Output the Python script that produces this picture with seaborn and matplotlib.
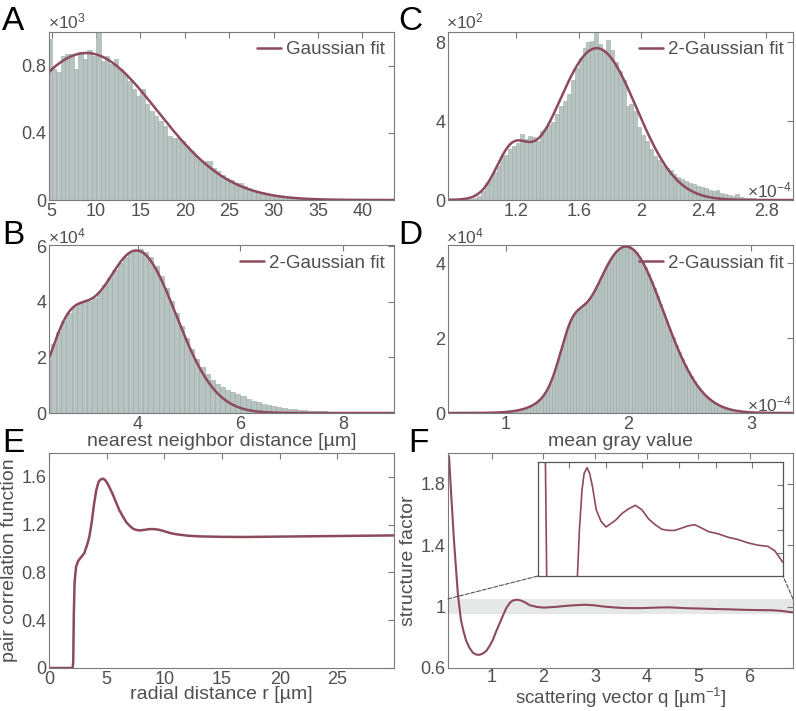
import numpy as np
import pandas as pd
import matplotlib
matplotlib.use("Agg")
import matplotlib.pyplot as plt
from matplotlib.patches import ConnectionPatch
import seaborn as sns

# ---------------------------------------------
# 1. data
# ---------------------------------------------

# A : histogram (counts x10^3), bin width 0.5, Gaussian fit
a_bin_start, a_bin_width = 4.5, 0.5
a_counts = [0.96, 0.78, 0.76, 0.86, 0.87, 0.87, 0.78, 0.88, 0.84, 0.89,
            0.86, 1.00, 0.83, 0.86, 0.81, 0.84, 0.78, 0.75, 0.71, 0.66,
            0.62, 0.66, 0.57, 0.53, 0.50, 0.47, 0.44, 0.38, 0.37, 0.37,
            0.35, 0.32, 0.29, 0.26, 0.24, 0.23, 0.23, 0.19, 0.17, 0.15,
            0.13, 0.12, 0.10, 0.10, 0.085, 0.07, 0.06, 0.055, 0.045, 0.04,
            0.03, 0.025, 0.02, 0.017, 0.014, 0.012, 0.01, 0.008, 0.007, 0.005,
            0.005, 0.004, 0.003, 0.003, 0.002, 0.002, 0.002, 0.001, 0.001, 0.001,
            0.001, 0.001, 0.0005, 0.0005, 0.0005, 0.0005, 0.0005, 0.0005, 0.0005, 0.0005]
a_fit_amp = [0.875]
a_fit_mu = [8.9]
a_fit_sigma = [8.0]

# B : nearest neighbour distance (counts x10^4), bin width 0.1, 2-Gaussian fit
b_bin_start, b_bin_width = 2.2, 0.1
b_counts = [1.95, 2.5, 2.9, 3.3, 3.6, 3.8, 3.95, 4.0, 4.05, 4.15,
            4.35, 4.6, 4.85, 5.15, 5.4, 5.6, 5.75, 5.85, 5.9, 5.8,
            5.6, 5.3, 4.95, 4.5, 4.05, 3.6, 3.15, 2.7, 2.3, 1.95,
            1.65, 1.4, 1.2, 1.05, 0.92, 0.82, 0.74, 0.68, 0.6, 0.52,
            0.45, 0.39, 0.33, 0.28, 0.24, 0.2, 0.17, 0.15, 0.13, 0.11,
            0.095, 0.085, 0.075, 0.065, 0.055, 0.05, 0.045, 0.04, 0.035, 0.03,
            0.027, 0.024, 0.021, 0.018, 0.016, 0.014, 0.012, 0.01]
b_fit_amp = [2.3, 5.85]
b_fit_mu = [2.62, 3.97]
b_fit_sigma = [0.38, 0.77]

# C : (counts x10^2), x in units of 1e-4, bin width 0.025
c_bin_start, c_bin_width = 0.75, 0.025
c_counts = [0.0, 0.0, 0.01, 0.01, 0.02, 0.03, 0.06, 0.12, 0.2, 0.45,
            0.85, 1.1, 1.4, 1.7, 2.25, 2.3, 2.6, 2.75, 2.9, 3.35,
            3.1, 3.25, 3.2, 3.0, 3.5, 3.6, 3.8, 3.95, 4.35, 4.75,
            5.0, 5.4, 6.1, 6.7, 7.2, 7.7, 8.0, 8.05, 8.5, 7.9,
            7.55, 8.1, 7.6, 7.0, 6.55, 6.1, 4.75, 4.85, 4.5, 3.7,
            3.3, 3.0, 2.6, 2.25, 2.05, 1.75, 1.6, 1.5, 1.3, 1.15,
            1.05, 0.95, 0.85, 0.8, 0.72, 0.65, 0.6, 0.52, 0.48, 0.5,
            0.35, 0.32, 0.25, 0.22, 0.3, 0.15, 0.12, 0.1, 0.08, 0.06,
            0.07, 0.05, 0.04, 0.03, 0.03, 0.02, 0.02, 0.01, 0.01]
c_fit_amp = [2.1, 7.7]
c_fit_mu = [1.17, 1.715]
c_fit_sigma = [0.1, 0.255]

# D : mean gray value (counts x10^4), x in units of 1e-4, bin width 0.025
d_bin_start, d_bin_width = 1.0, 0.025
d_counts = [0.03, 0.04, 0.05, 0.06, 0.08, 0.10, 0.13, 0.16, 0.19, 0.24,
            0.30, 0.38, 0.48, 0.61, 0.78, 0.99, 1.24, 1.51, 1.80, 2.08,
            2.32, 2.51, 2.65, 2.74, 2.81, 2.88, 2.95, 3.05, 3.18, 3.34,
            3.50, 3.68, 3.84, 4.00, 4.13, 4.25, 4.34, 4.41, 4.44, 4.45,
            4.42, 4.37, 4.29, 4.18, 4.05, 3.90, 3.72, 3.54, 3.33, 3.12,
            2.90, 2.68, 2.46, 2.25, 2.04, 1.83, 1.64, 1.45, 1.28, 1.12,
            0.98, 0.85, 0.73, 0.62, 0.52, 0.44, 0.37, 0.31, 0.25, 0.21,
            0.17, 0.14, 0.11, 0.09, 0.07, 0.05, 0.04, 0.03, 0.03, 0.02]
d_fit_amp = [0.95, 4.45]
d_fit_mu = [1.53, 1.98]
d_fit_sigma = [0.095, 0.306]

# E : pair correlation function
e_r = [0, 2.05, 2.1, 2.15, 2.22, 2.35, 2.55, 2.8, 3.05, 3.3,
       3.5, 3.7, 3.9, 4.1, 4.3, 4.5, 4.7, 4.9, 5.1, 5.3,
       5.5, 5.8, 6.1, 6.4, 6.7, 7.0, 7.3, 7.6, 7.9, 8.3,
       8.7, 9.1, 9.5, 10.0, 10.5, 11.0, 12.0, 13.0, 15.0, 17.0,
       20.0, 25.0, 29.9]
e_g = [0, 0, 0.05, 0.45, 0.72, 0.85, 0.9, 0.93, 0.96, 1.03,
       1.10, 1.22, 1.37, 1.49, 1.56, 1.58, 1.585, 1.57, 1.54, 1.50,
       1.46, 1.39, 1.32, 1.27, 1.22, 1.19, 1.165, 1.155, 1.152, 1.157,
       1.163, 1.163, 1.158, 1.145, 1.13, 1.12, 1.108, 1.102, 1.098, 1.097,
       1.1, 1.105, 1.11]

# F : structure factor
f_q = [0.17, 0.21, 0.27, 0.34, 0.40, 0.45, 0.50, 0.56, 0.63, 0.70,
       0.76, 0.82, 0.89, 0.96, 1.02, 1.08, 1.15, 1.22, 1.28, 1.35,
       1.41, 1.49, 1.56, 1.64, 1.74, 1.87, 2.01, 2.27, 2.45, 2.63,
       2.81, 2.99, 3.17, 3.35, 3.53, 3.71, 3.89, 4.07, 4.25, 4.43,
       4.62, 4.80, 5.07, 5.34, 5.61, 5.89, 6.16, 6.43, 6.62, 6.79,
       6.84]
f_s = [1.98, 1.74, 1.41, 1.087, 0.913, 0.84, 0.78, 0.735, 0.70, 0.687,
       0.686, 0.693, 0.71, 0.745, 0.783, 0.835, 0.89, 0.945, 0.99, 1.025,
       1.040, 1.045, 1.040, 1.028, 1.008, 0.998, 0.993, 0.999, 1.005, 1.009,
       1.012, 1.008, 1.0, 0.995, 0.991, 0.990, 0.990, 0.992, 0.994, 0.995,
       0.992, 0.989, 0.987, 0.984, 0.982, 0.979, 0.977, 0.976, 0.972, 0.964,
       0.962]
f_band = [0.95, 1.05]

# ---------------------------------------------
# 2. style
# ---------------------------------------------
sns.set_style("white")
plt.rcParams['font.family'] = ['Liberation Sans', 'DejaVu Sans']
plt.rcParams['mathtext.fontset'] = 'custom'
plt.rcParams['mathtext.rm'] = 'Liberation Sans'
plt.rcParams['mathtext.it'] = 'Liberation Sans:italic'

BAR = '#b8c4c2'
BAR_EDGE = '#9aa8a6'
FIT = '#8c4a5c'
SPINE = '#7a7a7a'
TXT = '#505050'

W, H = 796, 711
fig = plt.figure(figsize=(W / 100, H / 100), dpi=100)


def px_axes(left, top, right, bottom):
    return fig.add_axes([left / W, 1 - bottom / H, (right - left) / W, (bottom - top) / H])


def style(ax, xlim, ylim, xticks, xlabels, yticks, ylabels):
    ax.set_xlim(*xlim)
    ax.set_ylim(*ylim)
    ax.set_xticks(xticks)
    ax.set_xticklabels(xlabels)
    ax.set_yticks(yticks)
    ax.set_yticklabels(ylabels)
    ax.tick_params(direction='in', top=True, right=True, length=4, width=0.8,
                   color=SPINE, labelcolor=TXT, labelsize=13, pad=2)
    for sp in ax.spines.values():
        sp.set_visible(True)
        sp.set_color(SPINE)
        sp.set_linewidth(0.8)
    ax.set_xlabel('')
    ax.set_ylabel('')


def hist_with_fit(ax, start, width, counts, amps, mus, sigmas, label, xlim):
    edges = [round(start + width * i, 6) for i in range(len(counts) + 1)]
    df = pd.DataFrame({'x': [e + width / 2 for e in edges[:-1]], 'n': counts})
    sns.histplot(data=df, x='x', weights='n', bins=edges, ax=ax, color=BAR,
                 edgecolor=BAR_EDGE, linewidth=0.4, alpha=1)
    xs = np.linspace(xlim[0], xlim[1], 500)
    ys = sum(a * np.exp(-(xs - m) ** 2 / (2 * s ** 2)) for a, m, s in zip(amps, mus, sigmas))
    sns.lineplot(x=xs, y=ys, ax=ax, color=FIT, linewidth=1.8, label=label)
    ax.legend(loc='upper right', frameon=False, fontsize=13.5, handlelength=1.3,
              handletextpad=0.25, borderaxespad=0.1, labelcolor=TXT)


def xlab(ax, text, pad=0, size=14):
    ax.set_xlabel(text, fontsize=size, color=TXT, labelpad=pad)


# ---------------------------------------------
# 3. panels
# ---------------------------------------------
ax_a = px_axes(49, 32, 394, 200)
xl = (4.7, 43.55)
hist_with_fit(ax_a, a_bin_start, a_bin_width, a_counts, a_fit_amp, a_fit_mu, a_fit_sigma, 'Gaussian fit', xl)
style(ax_a, xl, (0, 1.0), [5, 10, 15, 20, 25, 30, 35, 40],
      ['5', '10', '15', '20', '25', '30', '35', '40'], [0, 0.4, 0.8], ['0', '0.4', '0.8'])

ax_c = px_axes(448, 32, 793, 200)
xl = (0.765, 2.97)
hist_with_fit(ax_c, c_bin_start, c_bin_width, c_counts, c_fit_amp, c_fit_mu, c_fit_sigma, '2-Gaussian fit', xl)
style(ax_c, xl, (0, 8.52), [1.2, 1.6, 2.0, 2.4, 2.8],
      ['1.2', '1.6', '2', '2.4', '2.8'], [0, 4, 8], ['0', '4', '8'])

ax_b = px_axes(49, 245, 394, 413)
xl = (2.26, 9.0)
hist_with_fit(ax_b, b_bin_start, b_bin_width, b_counts, b_fit_amp, b_fit_mu, b_fit_sigma, '2-Gaussian fit', xl)
style(ax_b, xl, (0, 6.05), [4, 6, 8], ['4', '6', '8'], [0, 2, 4, 6], ['0', '2', '4', '6'])
xlab(ax_b, 'nearest neighbor distance [µm]')

ax_d = px_axes(448, 245, 793, 413)
xl = (0.53, 3.34)
hist_with_fit(ax_d, d_bin_start, d_bin_width, d_counts, d_fit_amp, d_fit_mu, d_fit_sigma, '2-Gaussian fit', xl)
style(ax_d, xl, (0, 4.49), [1, 2, 3], ['1', '2', '3'], [0, 2, 4], ['0', '2', '4'])
xlab(ax_d, 'mean gray value')

ax_e = px_axes(49, 453, 394, 668)
sns.lineplot(x=e_r, y=e_g, ax=ax_e, color=FIT, linewidth=1.8)
style(ax_e, (0, 29.9), (0, 1.8), [0, 5, 10, 15, 20, 25], ['0', '5', '10', '15', '20', '25'],
      [0, 0.4, 0.8, 1.2, 1.6], ['0', '0.4', '0.8', '1.2', '1.6'])
xlab(ax_e, 'radial distance r [µm]', pad=-1)
ax_e.set_ylabel('pair correlation function', fontsize=14, color=TXT, labelpad=2)

ax_f = px_axes(448, 453, 793, 668)
f_xlim = (0.15, 6.84)
ax_f.axhspan(f_band[0], f_band[1], color='#e6e8e7', lw=0, zorder=0)
sns.lineplot(x=f_q, y=f_s, ax=ax_f, color=FIT, linewidth=1.5)
style(ax_f, f_xlim, (0.6, 2.0), [1, 2, 3, 4, 5, 6], ['1', '2', '3', '4', '5', '6'],
      [0.6, 1.0, 1.4, 1.8], ['0.6', '1', '1.4', '1.8'])
ax_f.tick_params(axis='x', pad=1)
xlab(ax_f, 'scattering vector q [µm$^{-1}$]', pad=0, size=13.5)
ax_f.set_ylabel('structure factor', fontsize=14, color=TXT, labelpad=2)

# inset : zoom on the grey band
ax_in = px_axes(538, 462, 783, 576)
sns.lineplot(x=f_q, y=f_s, ax=ax_in, color=FIT, linewidth=1.2)
ax_in.set_xlim(*f_xlim)
ax_in.set_ylim(*f_band)
ax_in.set_xticks([1, 2, 3, 4, 5, 6])
ax_in.set_yticks([0.97, 0.99, 1.01, 1.03])
ax_in.tick_params(direction='in', top=True, right=True, length=4, width=0.8, color=SPINE,
                  labelbottom=False, labelleft=False)
for sp in ax_in.spines.values():
    sp.set_visible(True)
    sp.set_color('#555555')
    sp.set_linewidth(0.9)
ax_in.set_xlabel('')
ax_in.set_ylabel('')

for xa, xb in [(f_xlim[0], 0), (f_xlim[1], 1)]:
    con = ConnectionPatch(xyA=(xa, f_band[1]), coordsA=ax_f.transData,
                          xyB=(xb, 0), coordsB=ax_in.transAxes,
                          linestyle='--', color='#555555', linewidth=0.8)
    fig.add_artist(con)

# ---------------------------------------------
# 4. panel letters and axis multipliers
# ---------------------------------------------
for letter, x, y in [('A', 2, 6), ('C', 398, 6), ('B', 2, 220), ('D', 398, 220),
                     ('E', 2, 428), ('F', 408, 428)]:
    fig.text(x / W, 1 - y / H, letter, fontsize=24, va='top', ha='left', color='black')

for text, x, y in [(r'$\times10^{3}$', 48, 28), (r'$\times10^{2}$', 446, 28),
                   (r'$\times10^{4}$', 48, 243), (r'$\times10^{4}$', 446, 243)]:
    fig.text(x / W, 1 - y / H, text, fontsize=12.5, color=TXT, va='baseline', ha='left')

for text, x, y in [(r'$\times10^{-4}$', 792, 197), (r'$\times10^{-4}$', 792, 411)]:
    fig.text(x / W, 1 - y / H, text, fontsize=12.5, color=TXT, va='baseline', ha='right')

fig.savefig('out.png', dpi=100)
